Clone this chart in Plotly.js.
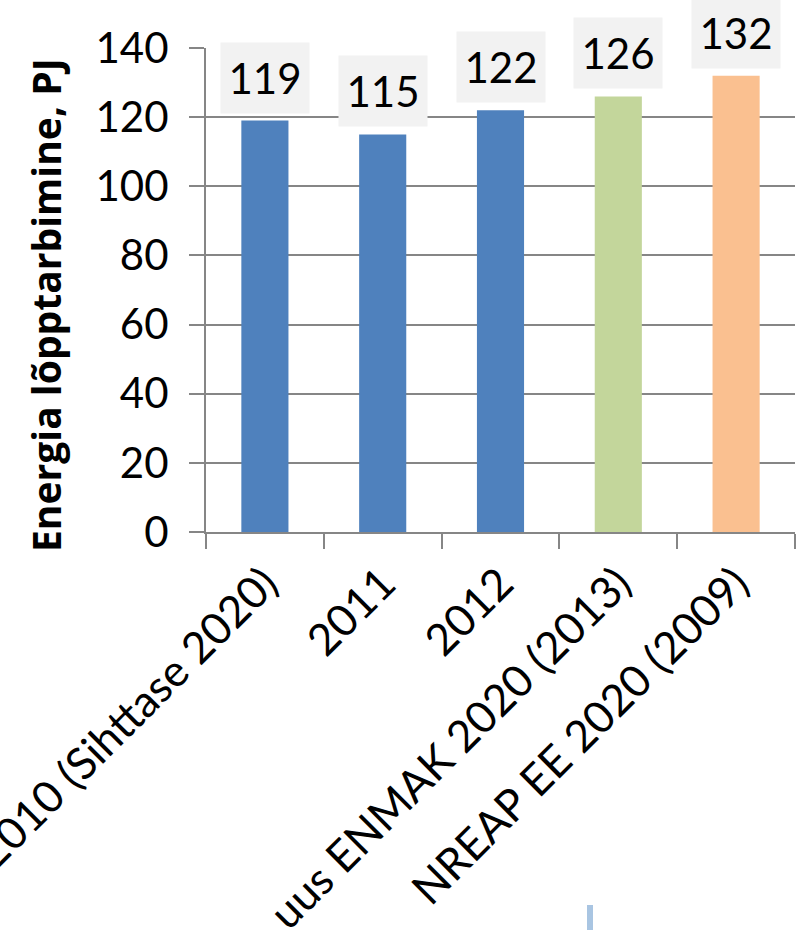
<!DOCTYPE html>
<html>
<head>
<meta charset="utf-8">
<script src="https://cdn.plot.ly/plotly-3.0.1.min.js"></script>
<style>html,body{margin:0;padding:0;background:#fff;}#chart{width:798px;height:930px;}</style>
</head>
<body>
<div id="chart"></div>
<script>
const categories = ["2010 (Sihttase 2020)", "2011", "2012", "uus ENMAK 2020 (2013)", "NREAP EE 2020 (2009)"];
const values = [119, 115, 122, 126, 132];
const barColors = ["#4f81bd", "#4f81bd", "#4f81bd", "#c3d69b", "#fac090"];
const yTicks = [0, 20, 40, 60, 80, 100, 120, 140];
const yTitle = "Energia lõpptarbimine, PJ";

const FONT = "Lato, 'Open Sans', sans-serif";

const trace = {
  type: "bar",
  x: categories,
  y: values,
  marker: { color: barColors },
  width: 0.4,
  hoverinfo: "x+y"
};

const annotations = categories.map((c, i) => ({
  x: i, y: values[i], xref: "x", yref: "y",
  text: String(values[i]),
  showarrow: false,
  yanchor: "bottom",
  yshift: 7,
  width: 76, height: 58, valign: "middle", align: "center",
  bgcolor: "#f2f2f2",
  borderpad: 6,
  font: { family: FONT, size: 42, color: "#000" }
}));

annotations.push({
  xref: "paper", yref: "paper",
  x: (45 - 206) / 589, y: (532 - 305) / 484,
  xanchor: "center", yanchor: "middle",
  textangle: -90, showarrow: false,
  text: yTitle,
  font: { family: "'Open Sans', Lato, sans-serif", size: 39, color: "#000", weight: "bold" }
});

const layout = {
  width: 798, height: 930,
  margin: { l: 206, r: 3, t: 48, b: 398 },
  paper_bgcolor: "#fff", plot_bgcolor: "#fff",
  showlegend: false,
  bargap: 0.6,
  font: { family: FONT, color: "#000" },
  xaxis: {
    type: "category",
    range: [-0.5, 4.5],
    tickangle: -45,
    tickfont: { family: FONT, size: 44, color: "#000" },
    ticks: "outside", ticklen: 15, tickwidth: 2, tickcolor: "#868686",
    tickson: "boundaries",
    ticklabelstandoff: 6,
    showline: true, linecolor: "#868686", linewidth: 2,
    showgrid: false, automargin: false, fixedrange: true
  },
  yaxis: {
    range: [0, 140],
    tickvals: yTicks,
    tickfont: { family: FONT, size: 42, color: "#000" },
    ticks: "outside", ticklen: 15, tickwidth: 2, tickcolor: "#868686",
    ticklabelstandoff: 12,
    showline: true, linecolor: "#868686", linewidth: 2,
    showgrid: true, gridcolor: "#868686", gridwidth: 2,
    zeroline: false, automargin: false, fixedrange: true
  },
  annotations: annotations,
  shapes: [{
    type: "rect", xref: "paper", yref: "paper",
    x0: (587 - 206) / 589, x1: (593 - 206) / 589,
    y0: (532 - 930) / 484, y1: (532 - 905) / 484,
    fillcolor: "#a9c5e2", line: { width: 0 }, layer: "above"
  }]
};

Plotly.newPlot("chart", [trace], layout, { displayModeBar: false, staticPlot: true });
</script>
</body>
</html>
